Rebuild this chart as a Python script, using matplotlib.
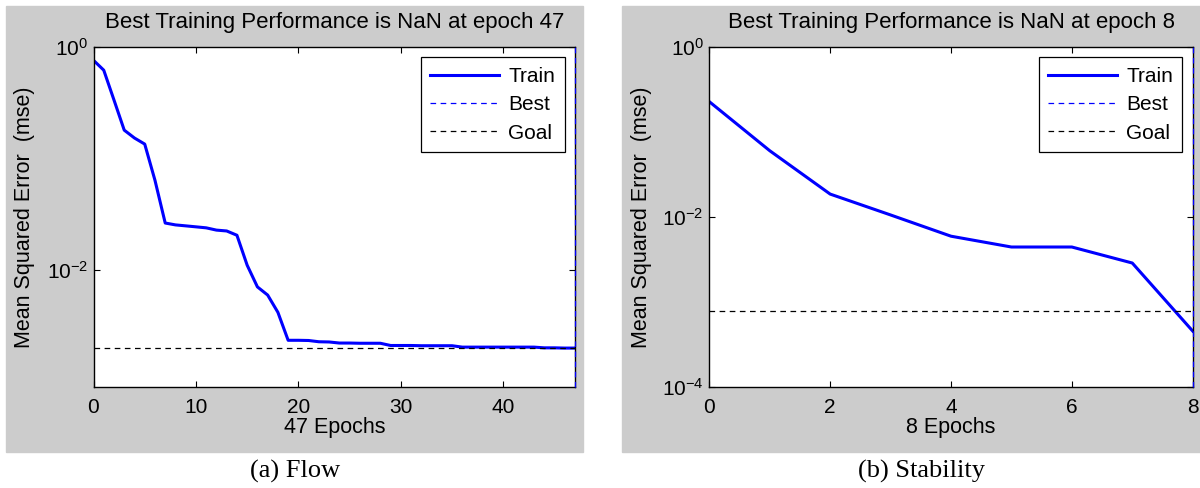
import matplotlib
matplotlib.use('Agg')
import matplotlib.pyplot as plt
from matplotlib.patches import Rectangle
from matplotlib.ticker import NullLocator

plt.rcParams['font.family'] = ['Liberation Sans', 'DejaVu Sans']
plt.rcParams['mathtext.default'] = 'regular'

# (a) Flow
flow_epochs = list(range(48))
flow_mse = [0.76, 0.62, 0.335, 0.18, 0.153, 0.135, 0.064, 0.0265, 0.0255, 0.025,
            0.0245, 0.024, 0.0229, 0.0225, 0.0206, 0.0111, 0.0071, 0.006, 0.0042, 0.00236,
            0.00236, 0.00235, 0.00229, 0.00228, 0.00223, 0.00223, 0.00222, 0.00222, 0.00222, 0.00212,
            0.00212, 0.00212, 0.00211, 0.00211, 0.00211, 0.00211, 0.00205, 0.00205, 0.00205, 0.00205,
            0.00205, 0.00205, 0.00205, 0.00205, 0.00202, 0.00202, 0.00201, 0.00201]
flow_goal = 0.002
flow_best = 47
flow_xticks = [0, 10, 20, 30, 40]
flow_yticks = [1e0, 1e-2]

# (b) Stability
stab_epochs = list(range(9))
stab_mse = [0.227, 0.06, 0.0185, 0.0105, 0.0059, 0.0044, 0.0044, 0.00285, 0.00045]
stab_goal = 0.00077
stab_best = 8
stab_xticks = [0, 2, 4, 6, 8]
stab_yticks = [1e0, 1e-2, 1e-4]

W, H = 1200, 488
fig = plt.figure(figsize=(12, 4.88), dpi=100)

# grey MATLAB figure backgrounds
for x0, w in [(6, 577), (622, 578)]:
    fig.add_artist(Rectangle((x0 / W, 36 / H), w / W, 446 / H,
                             transform=fig.transFigure, color='#cccccc', zorder=0))

dash = (0, (4.5, 3.6))


def draw_panel(left, right, epochs, mse, goal, best, xticks, yticks, ylo,
               caption, cap_x, ylab_x):
    top, bottom = 47, 386.5
    ax = fig.add_axes([left / W, (H - bottom) / H, (right - left) / W, (bottom - top) / H])
    ax.set_facecolor('white')
    ax.semilogy(epochs, mse, color='blue', lw=2.2, label='Train')
    ax.axvline(best, color='blue', ls=dash, lw=0.9, label='Best',
               clip_on=False, zorder=5)
    ax.axhline(goal, color='black', ls=dash, lw=0.9, label='Goal')
    ax.set_xlim(0, epochs[-1])
    ax.set_ylim(ylo, 1)
    ax.set_xticks(xticks)
    ax.set_yticks(yticks)
    ax.yaxis.set_minor_locator(NullLocator())
    ax.tick_params(which='both', direction='in', top=True, right=True,
                   length=4, width=0.8, labelsize=15)
    ax.tick_params(axis='x', pad=8)
    ax.tick_params(axis='y', pad=4)
    for s in ax.spines.values():
        s.set_linewidth(1.0)
    ax.set_title('Best Training Performance is NaN at epoch %d' % best,
                 fontsize=16, pad=14)
    ax.set_xlabel('%d Epochs' % best, fontsize=15.5)
    ax.xaxis.set_label_coords(0.5, -0.09)
    ax.set_ylabel('Mean Squared Error  (mse)', fontsize=15.5)
    ax.yaxis.set_label_coords((ylab_x - left) / (right - left), 0.5)
    leg = ax.legend(loc='upper right', fancybox=False, edgecolor='black',
                    framealpha=1, fontsize=15, handlelength=3.3,
                    handletextpad=0.45, labelspacing=0.45, borderpad=0.45,
                    borderaxespad=0.5)
    leg.get_frame().set_linewidth(0.9)
    fig.text(cap_x / W, 1 - 471 / H, caption, ha='center', va='center',
             family='Liberation Serif', fontsize=19)
    return ax


draw_panel(93.5, 575, flow_epochs, flow_mse, flow_goal, flow_best,
           flow_xticks, flow_yticks, 9.1e-4, '(a) Flow', 295, 35)
draw_panel(709.3, 1192.7, stab_epochs, stab_mse, stab_goal, stab_best,
           stab_xticks, stab_yticks, 1e-4, '(b) Stability', 921, 652)

fig.savefig('out.png', dpi=100)
